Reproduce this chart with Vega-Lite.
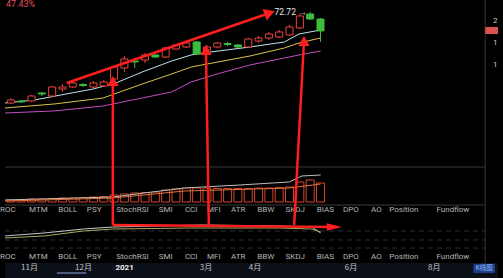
{
  "$schema": "https://vega.github.io/schema/vega-lite/v6.json",
  "width": 503,
  "height": 278,
  "autosize": {"type": "none"},
  "padding": 0,
  "background": "#000000",
  "config": {"view": {"stroke": null}},
  "datasets": {
    "strip": [{"d": -0.57, "d2": 47.2, "p": 4.35, "p2": 8.21}],
    "pricebox": [{"d": 45.96, "d2": 47.2, "p": 68.86, "p2": 67.06}],
    "scroll": [{"d": 4.46, "d2": 7.31, "p": 5.9, "p2": 5.38}],
    "button": [{"d": 44.82, "d2": 46.91, "p": 8.0, "p2": 5.64}],
    "hsolid": [
      {"d": -0.57, "d2": 45.96, "p": 32.88},
      {"d": -0.57, "d2": 45.96, "p": 23.11}
    ],
    "hdash": [
      {"d": -0.57, "d2": 45.96, "p": 16.43},
      {"d": -0.57, "d2": 45.96, "p": 14.12},
      {"d": -0.57, "d2": 45.96, "p": 12.06}
    ],
    "vline": [{"d": 45.96, "p": 8.21, "p2": 75.8}],
    "candles": [
      {"d": 0, "o": 49.33, "c": 50.10, "h": 50.61, "l": 49.07, "dir": "up"},
      {"d": 1, "o": 49.84, "c": 49.59, "h": 50.10, "l": 49.33, "dir": "down"},
      {"d": 2, "o": 49.84, "c": 51.13, "h": 51.39, "l": 49.59, "dir": "up"},
      {"d": 3, "o": 51.90, "c": 51.64, "h": 52.16, "l": 51.13, "dir": "down"},
      {"d": 4, "o": 51.13, "c": 53.44, "h": 53.70, "l": 50.87, "dir": "up"},
      {"d": 5, "o": 52.93, "c": 53.44, "h": 54.21, "l": 52.16, "dir": "up"},
      {"d": 6, "o": 53.44, "c": 54.47, "h": 54.73, "l": 53.19, "dir": "up"},
      {"d": 7, "o": 54.09, "c": 53.83, "h": 54.47, "l": 53.44, "dir": "down"},
      {"d": 8, "o": 53.44, "c": 54.47, "h": 54.98, "l": 53.19, "dir": "up"},
      {"d": 9, "o": 53.70, "c": 54.73, "h": 55.24, "l": 53.44, "dir": "up"},
      {"d": 10, "o": 55.50, "c": 58.58, "h": 58.84, "l": 55.24, "dir": "up"},
      {"d": 11, "o": 58.33, "c": 60.64, "h": 61.41, "l": 57.30, "dir": "up"},
      {"d": 12, "o": 60.12, "c": 59.87, "h": 60.90, "l": 58.33, "dir": "down"},
      {"d": 13, "o": 60.38, "c": 61.67, "h": 62.18, "l": 59.61, "dir": "up"},
      {"d": 14, "o": 61.67, "c": 61.15, "h": 61.92, "l": 60.90, "dir": "down"},
      {"d": 15, "o": 61.15, "c": 63.47, "h": 63.72, "l": 60.90, "dir": "up"},
      {"d": 16, "o": 63.21, "c": 64.24, "h": 64.49, "l": 62.95, "dir": "up"},
      {"d": 17, "o": 63.72, "c": 64.75, "h": 65.01, "l": 63.47, "dir": "up"},
      {"d": 18, "o": 65.01, "c": 61.92, "h": 65.27, "l": 61.67, "dir": "down"},
      {"d": 19, "o": 62.95, "c": 63.72, "h": 64.24, "l": 62.70, "dir": "up"},
      {"d": 20, "o": 63.72, "c": 64.75, "h": 65.01, "l": 63.47, "dir": "up"},
      {"d": 21, "o": 64.62, "c": 64.37, "h": 65.01, "l": 63.98, "dir": "down"},
      {"d": 22, "o": 64.24, "c": 63.72, "h": 64.49, "l": 63.47, "dir": "down"},
      {"d": 23, "o": 63.72, "c": 65.78, "h": 66.04, "l": 63.47, "dir": "up"},
      {"d": 24, "o": 65.27, "c": 66.04, "h": 66.55, "l": 64.75, "dir": "up"},
      {"d": 25, "o": 66.04, "c": 67.06, "h": 67.58, "l": 65.52, "dir": "up"},
      {"d": 26, "o": 66.29, "c": 67.58, "h": 68.09, "l": 66.04, "dir": "up"},
      {"d": 27, "o": 66.81, "c": 68.86, "h": 69.38, "l": 66.55, "dir": "up"},
      {"d": 28, "o": 68.61, "c": 71.69, "h": 72.20, "l": 68.35, "dir": "up"},
      {"d": 29, "o": 72.20, "c": 70.92, "h": 72.72, "l": 70.66, "dir": "down"},
      {"d": 30, "o": 70.92, "c": 67.84, "h": 71.18, "l": 65.01, "dir": "down"}
    ],
    "vol": [
      {"d": 0, "v": 24.40}, {"d": 1, "v": 24.53}, {"d": 2, "v": 24.66}, {"d": 3, "v": 24.66},
      {"d": 4, "v": 24.78}, {"d": 5, "v": 24.91}, {"d": 6, "v": 24.91}, {"d": 7, "v": 25.04},
      {"d": 8, "v": 25.17}, {"d": 9, "v": 25.30}, {"d": 10, "v": 25.69}, {"d": 11, "v": 25.94},
      {"d": 12, "v": 26.20}, {"d": 13, "v": 26.33}, {"d": 14, "v": 26.45}, {"d": 15, "v": 26.97},
      {"d": 16, "v": 27.23}, {"d": 17, "v": 27.48}, {"d": 18, "v": 27.48}, {"d": 19, "v": 27.48},
      {"d": 20, "v": 27.35}, {"d": 21, "v": 27.35}, {"d": 22, "v": 27.35}, {"d": 23, "v": 27.35},
      {"d": 24, "v": 27.48}, {"d": 25, "v": 27.48}, {"d": 26, "v": 27.61}, {"d": 27, "v": 27.74},
      {"d": 28, "v": 29.03}, {"d": 29, "v": 29.54}, {"d": 30, "v": 28.77}
    ],
    "lines": [
      {"s": "MA5", "d": -0.57, "p": 49.33}, {"s": "MA5", "d": 2.28, "p": 50.10}, {"s": "MA5", "d": 4.84, "p": 51.39},
      {"s": "MA5", "d": 7.98, "p": 52.93}, {"s": "MA5", "d": 10.16, "p": 54.47}, {"s": "MA5", "d": 12.73, "p": 57.30},
      {"s": "MA5", "d": 15.57, "p": 60.12}, {"s": "MA5", "d": 17.47, "p": 61.67}, {"s": "MA5", "d": 19.37, "p": 62.44},
      {"s": "MA5", "d": 23.17, "p": 63.72}, {"s": "MA5", "d": 26.50, "p": 65.01}, {"s": "MA5", "d": 27.92, "p": 67.06},
      {"s": "MA5", "d": 30.01, "p": 68.09},
      {"s": "MA10", "d": -0.57, "p": 48.05}, {"s": "MA10", "d": 4.18, "p": 49.07}, {"s": "MA10", "d": 8.93, "p": 50.61},
      {"s": "MA10", "d": 12.73, "p": 54.21}, {"s": "MA10", "d": 15.57, "p": 56.78}, {"s": "MA10", "d": 17.47, "p": 58.58},
      {"s": "MA10", "d": 23.17, "p": 61.41}, {"s": "MA10", "d": 26.50, "p": 63.47}, {"s": "MA10", "d": 27.92, "p": 64.75},
      {"s": "MA10", "d": 30.01, "p": 66.04},
      {"s": "MA20", "d": -0.57, "p": 46.76}, {"s": "MA20", "d": 4.18, "p": 47.28}, {"s": "MA20", "d": 8.93, "p": 48.56},
      {"s": "MA20", "d": 12.73, "p": 50.61}, {"s": "MA20", "d": 15.57, "p": 52.16}, {"s": "MA20", "d": 17.47, "p": 54.73},
      {"s": "MA20", "d": 20.32, "p": 57.04}, {"s": "MA20", "d": 23.17, "p": 59.10}, {"s": "MA20", "d": 27.92, "p": 61.67},
      {"s": "MA20", "d": 30.01, "p": 62.70},
      {"s": "VMA5", "d": -0.57, "p": 24.40}, {"s": "VMA5", "d": 9.88, "p": 25.17}, {"s": "VMA5", "d": 13.68, "p": 26.45},
      {"s": "VMA5", "d": 16.81, "p": 27.48}, {"s": "VMA5", "d": 22.22, "p": 28.26}, {"s": "VMA5", "d": 26.97, "p": 29.03},
      {"s": "VMA5", "d": 28.20, "p": 30.57}, {"s": "VMA5", "d": 30.01, "p": 30.82},
      {"s": "VMA10", "d": -0.57, "p": 24.14}, {"s": "VMA10", "d": 9.88, "p": 24.91}, {"s": "VMA10", "d": 16.81, "p": 26.71},
      {"s": "VMA10", "d": 26.97, "p": 27.48}, {"s": "VMA10", "d": 30.01, "p": 28.51},
      {"s": "IND1", "d": -0.57, "p": 15.15}, {"s": "IND1", "d": 3.23, "p": 15.92}, {"s": "IND1", "d": 7.03, "p": 16.94},
      {"s": "IND1", "d": 9.88, "p": 17.46}, {"s": "IND1", "d": 18.42, "p": 17.97}, {"s": "IND1", "d": 26.02, "p": 17.72},
      {"s": "IND1", "d": 29.15, "p": 17.46}, {"s": "IND1", "d": 30.01, "p": 15.92},
      {"s": "IND2", "d": -0.57, "p": 14.63}, {"s": "IND2", "d": 3.23, "p": 15.15}, {"s": "IND2", "d": 7.03, "p": 16.43},
      {"s": "IND2", "d": 9.88, "p": 16.94}, {"s": "IND2", "d": 17.47, "p": 17.20}, {"s": "IND2", "d": 26.02, "p": 17.20},
      {"s": "IND2", "d": 29.15, "p": 16.94}, {"s": "IND2", "d": 30.01, "p": 16.17}
    ],
    "tabs": [
      {"t": "ROC", "d": -0.29, "p": 21.83}, {"t": "MTM", "d": 2.66, "p": 21.83}, {"t": "BOLL", "d": 5.51, "p": 21.83},
      {"t": "PSY", "d": 8.07, "p": 21.83}, {"t": "StochRSI", "d": 11.78, "p": 21.83}, {"t": "SMI", "d": 15.0, "p": 21.83},
      {"t": "CCI", "d": 17.47, "p": 21.83}, {"t": "MFI", "d": 19.66, "p": 21.83}, {"t": "ATR", "d": 22.03, "p": 21.83},
      {"t": "BBW", "d": 24.69, "p": 21.83}, {"t": "SKDJ", "d": 27.54, "p": 21.83}, {"t": "BIAS", "d": 30.48, "p": 21.83},
      {"t": "DPO", "d": 32.95, "p": 21.83}, {"t": "AO", "d": 35.42, "p": 21.83}, {"t": "Position", "d": 38.08, "p": 21.83},
      {"t": "Fundflow", "d": 42.83, "p": 21.83}
    ],
    "tabs2": [
      {"t": "ROC", "d": -0.29, "p": 9.75}, {"t": "MTM", "d": 2.66, "p": 9.75}, {"t": "BOLL", "d": 5.51, "p": 9.75},
      {"t": "PSY", "d": 8.07, "p": 9.75}, {"t": "StochRSI", "d": 11.78, "p": 9.75}, {"t": "SMI", "d": 15.0, "p": 9.75},
      {"t": "CCI", "d": 17.47, "p": 9.75}, {"t": "MFI", "d": 19.66, "p": 9.75}, {"t": "ATR", "d": 22.03, "p": 9.75},
      {"t": "BBW", "d": 24.69, "p": 9.75}, {"t": "SKDJ", "d": 27.54, "p": 9.75}, {"t": "BIAS", "d": 30.48, "p": 9.75},
      {"t": "DPO", "d": 32.95, "p": 9.75}, {"t": "AO", "d": 35.42, "p": 9.75}, {"t": "Position", "d": 38.08, "p": 9.75},
      {"t": "Fundflow", "d": 42.83, "p": 9.75}
    ],
    "months": [
      {"t": "11月", "d": 1.80, "p": 6.92}, {"t": "12月", "d": 7.03, "p": 6.92}, {"t": "3月", "d": 18.90, "p": 6.92},
      {"t": "4月", "d": 23.65, "p": 6.92}, {"t": "6月", "d": 32.95, "p": 6.92}, {"t": "8月", "d": 41.03, "p": 6.92}
    ],
    "year": [{"t": "2021", "d": 11.02, "p": 6.92}],
    "buttontext": [{"t": "K线图", "d": 45.86, "p": 6.85}],
    "axislabels": [
      {"t": "2", "d": 46.72, "p": 70.41}, {"t": "1", "d": 46.72, "p": 64.75}, {"t": "1", "d": 46.72, "p": 59.10}
    ],
    "gain": [{"t": "47.43%", "d": -0.48, "p": 74.9}],
    "maxlabel": [{"t": "72.72 →", "d": 25.55, "p": 72.72}],
    "arrows": [
      {"d": 5.41, "p": 54.47, "d2": 25.07, "p2": 72.46},
      {"d": 9.88, "p": 17.97, "d2": 9.88, "p2": 54.98},
      {"d": 19.18, "p": 17.97, "d2": 18.90, "p2": 62.95},
      {"d": 27.45, "p": 17.97, "d2": 28.40, "p2": 65.27},
      {"d": 9.88, "p": 17.97, "d2": 31.34, "p2": 17.46}
    ],
    "headsup": [{"d": 9.88, "p": 54.98}, {"d": 18.90, "p": 62.95}, {"d": 28.40, "p": 65.27}],
    "headright": [{"d": 31.34, "p": 17.46}],
    "headdiag": [{"d": 25.07, "p": 72.46}]
  },
  "encoding": {
    "x": {"field": "d", "type": "quantitative", "scale": {"domain": [-0.57, 47.2], "nice": false, "zero": false}, "axis": null},
    "y": {"field": "p", "type": "quantitative", "scale": {"domain": [4.35, 75.8], "nice": false, "zero": false}, "axis": null}
  },
  "layer": [
    {"data": {"name": "strip"}, "mark": {"type": "rect", "color": "#0b0f17"},
     "encoding": {"x2": {"field": "d2"}, "y2": {"field": "p2"}}},
    {"data": {"name": "hsolid"}, "mark": {"type": "rule", "color": "#3a3a3a", "strokeWidth": 1},
     "encoding": {"x2": {"field": "d2"}}},
    {"data": {"name": "hdash"}, "mark": {"type": "rule", "color": "#2e2e2e", "strokeWidth": 1, "strokeDash": [5, 4]},
     "encoding": {"x2": {"field": "d2"}}},
    {"data": {"name": "vline"}, "mark": {"type": "rule", "color": "#343434", "strokeWidth": 1},
     "encoding": {"y2": {"field": "p2"}}},
    {"data": {"name": "pricebox"}, "mark": {"type": "rect", "color": "#d9534f"},
     "encoding": {"x2": {"field": "d2"}, "y2": {"field": "p2"}}},
    {"data": {"name": "scroll"}, "mark": {"type": "rect", "color": "#4a5a7a"},
     "encoding": {"x2": {"field": "d2"}, "y2": {"field": "p2"}}},
    {"data": {"name": "button"}, "mark": {"type": "rect", "color": "#1d3f8a"},
     "encoding": {"x2": {"field": "d2"}, "y2": {"field": "p2"}}},
    {"data": {"name": "vol"},
     "mark": {"type": "bar", "width": 8, "fill": "transparent", "stroke": "#d4442c", "strokeWidth": 1},
     "encoding": {
       "y": {"field": "v", "type": "quantitative", "scale": {"domain": [4.35, 75.8], "nice": false, "zero": false}, "axis": null},
       "y2": {"datum": 23.88}
     }},
    {"data": {"name": "lines"}, "mark": {"type": "line", "strokeWidth": 1},
     "encoding": {
       "color": {"field": "s", "type": "nominal", "legend": null,
         "scale": {"domain": ["MA5", "MA10", "MA20", "VMA5", "VMA10", "IND1", "IND2"],
                   "range": ["#bfe3ec", "#d8c24a", "#c14fbf", "#bdbdbd", "#e0743a", "#c8c8c8", "#a8a860"]}}
     }},
    {"data": {"name": "candles"}, "transform": [{"filter": "datum.dir === 'up'"}],
     "mark": {"type": "rule", "color": "#e8453c", "strokeWidth": 1},
     "encoding": {
       "y": {"field": "l", "type": "quantitative", "scale": {"domain": [4.35, 75.8], "nice": false, "zero": false}, "axis": null},
       "y2": {"field": "h"}
     }},
    {"data": {"name": "candles"}, "transform": [{"filter": "datum.dir === 'down'"}],
     "mark": {"type": "rule", "color": "#3dbb3d", "strokeWidth": 1},
     "encoding": {
       "y": {"field": "l", "type": "quantitative", "scale": {"domain": [4.35, 75.8], "nice": false, "zero": false}, "axis": null},
       "y2": {"field": "h"}
     }},
    {"data": {"name": "candles"}, "transform": [{"filter": "datum.dir === 'up'"}],
     "mark": {"type": "bar", "width": 7, "fill": "#000000", "stroke": "#e8453c", "strokeWidth": 1},
     "encoding": {
       "y": {"field": "o", "type": "quantitative", "scale": {"domain": [4.35, 75.8], "nice": false, "zero": false}, "axis": null},
       "y2": {"field": "c"}
     }},
    {"data": {"name": "candles"}, "transform": [{"filter": "datum.dir === 'down'"}],
     "mark": {"type": "bar", "width": 7, "fill": "#3dbb3d", "stroke": "#3dbb3d", "strokeWidth": 1},
     "encoding": {
       "y": {"field": "o", "type": "quantitative", "scale": {"domain": [4.35, 75.8], "nice": false, "zero": false}, "axis": null},
       "y2": {"field": "c"}
     }},
    {"data": {"name": "tabs"},
     "mark": {"type": "text", "font": "Roboto", "fontSize": 8, "color": "#b4b4b4", "align": "center", "baseline": "middle"},
     "encoding": {"text": {"field": "t"}}},
    {"data": {"name": "tabs2"},
     "mark": {"type": "text", "font": "Roboto", "fontSize": 8, "color": "#b4b4b4", "align": "center", "baseline": "middle"},
     "encoding": {"text": {"field": "t"}}},
    {"data": {"name": "months"},
     "mark": {"type": "text", "font": "Noto Sans CJK SC", "fontSize": 8, "color": "#c4c4c4", "align": "center", "baseline": "middle"},
     "encoding": {"text": {"field": "t"}}},
    {"data": {"name": "year"},
     "mark": {"type": "text", "font": "Roboto", "fontSize": 8, "fontWeight": "bold", "color": "#f0f0f0", "align": "center", "baseline": "middle"},
     "encoding": {"text": {"field": "t"}}},
    {"data": {"name": "buttontext"},
     "mark": {"type": "text", "font": "Noto Sans CJK SC", "fontSize": 6.5, "color": "#9ab8ff", "align": "center", "baseline": "middle"},
     "encoding": {"text": {"field": "t"}}},
    {"data": {"name": "axislabels"},
     "mark": {"type": "text", "font": "Roboto", "fontSize": 8, "color": "#c8c8c8", "align": "left", "baseline": "middle"},
     "encoding": {"text": {"field": "t"}}},
    {"data": {"name": "gain"},
     "mark": {"type": "text", "font": "Roboto", "fontSize": 9, "color": "#e0505a", "align": "left", "baseline": "middle"},
     "encoding": {"text": {"field": "t"}}},
    {"data": {"name": "arrows"},
     "mark": {"type": "rule", "color": "#ff1e1e", "strokeWidth": 2.5},
     "encoding": {"x2": {"field": "d2"}, "y2": {"field": "p2"}}},
    {"data": {"name": "headsup"},
     "mark": {"type": "point", "shape": "triangle-up", "size": 130, "filled": true, "color": "#ff1e1e", "opacity": 1}},
    {"data": {"name": "headright"},
     "mark": {"type": "point", "shape": "M1,0L-1,-0.5L-1,0.5Z", "size": 230, "filled": true, "color": "#ff1e1e", "opacity": 1}},
    {"data": {"name": "headdiag"},
     "mark": {"type": "point", "shape": "triangle-right", "angle": -19, "size": 150, "filled": true, "color": "#ff1e1e", "opacity": 1}},
    {"data": {"name": "maxlabel"},
     "mark": {"type": "text", "font": "Roboto", "fontSize": 8.5, "color": "#e6e6e6", "align": "left", "baseline": "middle"},
     "encoding": {"text": {"field": "t"}}}
  ]
}
